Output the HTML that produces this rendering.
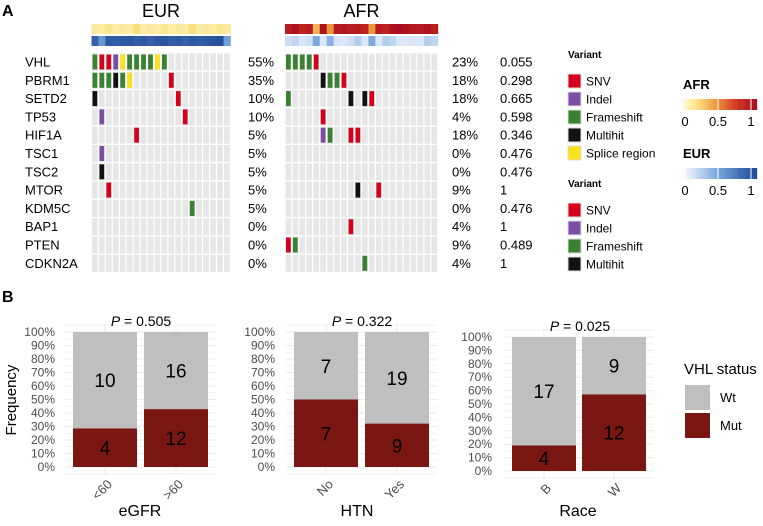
<!DOCTYPE html>
<html><head><meta charset="utf-8"><style>
body{margin:0;background:#fff}
svg{display:block;font-family:"Liberation Sans",sans-serif}
</style></head><body>
<svg id="s" width="763" height="526" viewBox="0 0 763 526"></svg>
<script>
const genes=["VHL","PBRM1","SETD2","TP53","HIF1A","TSC1","TSC2","MTOR","KDM5C","BAP1","PTEN","CDKN2A"];
const eurPct=["55%","35%","10%","10%","5%","5%","5%","5%","5%","0%","0%","0%"];
const afrPct=["23%","18%","18%","4%","18%","0%","0%","9%","0%","4%","9%","4%"];
const pvals=["0.055","0.298","0.665","0.598","0.346","0.476","0.476","1","0.476","1","0.489","1"];
// mutations: [gene index, column, type]  S=SNV I=Indel F=Frameshift M=Multihit Y=Splice
const eurMut=[[0,0,"F"],[0,1,"S"],[0,2,"S"],[0,3,"I"],[0,4,"Y"],[0,5,"F"],[0,6,"F"],[0,7,"F"],[0,8,"F"],[0,9,"Y"],[0,10,"F"],
[1,0,"F"],[1,1,"F"],[1,2,"F"],[1,3,"M"],[1,4,"F"],[1,5,"Y"],[1,11,"S"],[2,0,"M"],[2,12,"S"],[3,1,"I"],[3,13,"S"],[4,6,"S"],[5,1,"I"],[6,1,"M"],[7,2,"S"],[8,14,"F"]];
const afrMut=[[0,0,"F"],[0,1,"F"],[0,2,"F"],[0,3,"F"],[0,4,"S"],[1,5,"M"],[1,6,"F"],[1,7,"F"],[1,8,"S"],[2,0,"F"],[2,9,"M"],[2,11,"M"],[2,12,"S"],
[3,5,"S"],[4,5,"I"],[4,6,"F"],[4,9,"S"],[4,10,"S"],[7,10,"M"],[7,13,"S"],[9,9,"S"],[10,0,"S"],[10,1,"F"],[11,11,"F"]];
const eurAfrAnc=[0.12,0.1,0.15,0.1,0.12,0.1,0.2,0.1,0.12,0.1,0.15,0.1,0.12,0.1,0.2,0.1,0.12,0.1,0.15,0.12];
const eurEurAnc=[0.85,0.55,0.9,0.88,0.9,0.92,0.88,0.9,0.85,0.9,0.92,0.88,0.9,0.85,0.9,0.88,0.9,0.92,0.95,0.5];
const afrAfrAnc=[0.9,0.95,0.85,0.9,0.35,0.95,0.45,0.9,0.92,0.88,0.9,0.85,0.45,0.9,0.85,0.95,0.97,0.95,0.92,0.9,0.95,0.88];
const afrEurAnc=[0.15,0.2,0.1,0.15,0.45,0.1,0.4,0.12,0.1,0.15,0.25,0.1,0.45,0.1,0.25,0.2,0.1,0.1,0.12,0.1,0.25,0.2];
const mutColors={S:"#d7001c",I:"#7b4ea3",F:"#3b8132",M:"#111111",Y:"#f9e21a"};
// panel B
const groups=["eGFR","HTN","Race"];
const cats=[["<60",">60"],["No","Yes"],["B","W"]];
const mutN=[[4,12],[7,9],[4,12]];
const wtN=[[10,16],[7,19],[17,9]];
const pText=["0.505","0.322","0.025"];
const yTicks=[0,10,20,30,40,50,60,70,80,90,100];

const NS="http://www.w3.org/2000/svg",S=document.getElementById("s");
function el(t,a,txt,p){const e=document.createElementNS(NS,t);for(const k in a)e.setAttribute(k,a[k]);if(txt!=null)e.textContent=txt;(p||S).appendChild(e);return e;}
function lerp(a,b,t){return a.map((v,i)=>Math.round(v+(b[i]-v)*t));}
function scaleN(stops,t){for(let i=1;i<stops.length;i++){if(t<=stops[i][0]||i===stops.length-1){const a=stops[i-1],b=stops[i];const u=Math.max(0,Math.min(1,(t-a[0])/(b[0]-a[0])));return `rgb(${lerp(a[1],b[1],u)})`;}}}
const afrCol=t=>scaleN([[0,[255,250,205]],[0.2,[248,222,125]],[0.45,[236,150,60]],[0.7,[212,60,35]],[1,[165,10,30]]],t);
const eurCol=t=>scaleN([[0,[246,249,255]],[0.5,[111,160,216]],[1,[30,70,150]]],t);

let e;
e=el("text",{x:2,y:16,"font-size":16,"font-weight":"bold"},"A");
e=el("text",{x:2,y:302,"font-size":16,"font-weight":"bold"},"B");

const rowY=i=>53+i*18.3, colW=6.95;
genes.forEach((g,i)=>{
  e=el("text",{x:25,y:rowY(i)+13.5,"font-size":13},g);
  e=el("text",{x:248,y:rowY(i)+13.5,"font-size":13},eurPct[i]);
  e=el("text",{x:452,y:rowY(i)+13.5,"font-size":13},afrPct[i]);
  e=el("text",{x:500,y:rowY(i)+13.5,"font-size":13},pvals[i]);
});
function onco(x0,n,muts,top,bot,label,name){
  const g=el("g",{});
  e=el("text",{x:x0+n*colW/2,y:17,"font-size":18,"text-anchor":"middle"},label,g);
  for(let c=0;c<n;c++){
    e=el("rect",{x:x0+c*colW,y:24,width:colW+0.3,height:10,fill:afrCol(top[c])},null,g);
    e=el("rect",{x:x0+c*colW,y:36,width:colW+0.3,height:10,fill:eurCol(bot[c])},null,g);
    for(let r=0;r<genes.length;r++){e=el("rect",{x:x0+c*colW+0.5,y:rowY(r)+0.5,width:colW-1.2,height:17,fill:"#e6e6e6"},null,g);}
  }
  muts.forEach(m=>{e=el("rect",{x:x0+m[1]*colW+1,y:rowY(m[0])+1.5,width:colW-2.2,height:15,fill:mutColors[m[2]]},null,g);});
}
onco(91.5,20,eurMut,eurAfrAnc,eurEurAnc,"EUR","eur-oncoprint");
onco(285,22,afrMut,afrAfrAnc,afrEurAnc,"AFR","afr-oncoprint");

function vlegend(y0,items,name){
  e=el("text",{x:568,y:y0,"font-size":10,"font-weight":"bold"},"Variant");
  items.forEach((it,i)=>{const cy=y0+23+i*18;
    e=el("rect",{x:568,y:cy-7,width:13,height:14,fill:mutColors[it[0]],stroke:"#ddd"});
    e=el("text",{x:586,y:cy+4.5,"font-size":12},it[1]);});
}
vlegend(58,[["S","SNV"],["I","Indel"],["F","Frameshift"],["M","Multihit"],["Y","Splice region"]],"variant-legend-1");
vlegend(187,[["S","SNV"],["I","Indel"],["F","Frameshift"],["M","Multihit"]],"variant-legend-2");

function cbar(y0,title,fn,name){
  e=el("text",{x:683,y:y0,"font-size":13,"font-weight":"bold"},title);
  for(let i=0;i<40;i++){e=el("rect",{x:683+i*1.85,y:y0+10,width:2,height:11,fill:fn(i/39)});}
  [0,0.5,1].forEach(v=>{const x=685+v*66;el("line",{x1:x,x2:x,y1:y0+10,y2:y0+21,stroke:"#fff","stroke-width":1});
    e=el("text",{x:x,y:y0+37,"font-size":13,"text-anchor":"middle"},String(v));});
}
cbar(89,"AFR",afrCol,"afr-colorbar");cbar(158,"EUR",eurCol,"eur-colorbar");

// panel B
const panels=[{x:[73,144],top:332,bot:467,ax:55},{x:[294,365],top:332,bot:467,ax:275},{x:[512,582],top:337,bot:471,ax:492}];
const titleX=[140,357,578];
e=el("text",{x:0,y:0,"font-size":15,"text-anchor":"middle",transform:"translate(16,400) rotate(-90)"},"Frequency");
panels.forEach((p,k)=>{
  const g=el("g",{});
  const yS=v=>p.bot-(p.bot-p.top)*v/100;
  const left=p.x[0]-8,right=p.x[1]+72;
  for(let v=0;v<=100;v+=5){e=el("line",{x1:left,x2:right,y1:yS(v),y2:yS(v),stroke:v%10?"#f4f4f4":"#ebebeb","stroke-width":1},null,g);}
  e=el("line",{x1:left,x2:right,y1:yS(-5),y2:yS(-5),stroke:"#f0f0f0"},null,g);
  e=el("line",{x1:left,x2:right,y1:yS(105),y2:yS(105),stroke:"#f0f0f0"},null,g);
  p.x.forEach(x=>{el("line",{x1:x+32,x2:x+32,y1:yS(-6),y2:yS(106),stroke:"#ebebeb"},null,g);});
  yTicks.forEach(v=>{e=el("text",{x:p.ax,y:yS(v)+4,"font-size":12,fill:"#4d4d4d","text-anchor":"end"},v+"%",g);});
  e=el("text",{x:p.x[0]+68,y:p.top-6,"font-size":14,"text-anchor":"middle"},null,g);
  e.innerHTML='<tspan font-style="italic">P</tspan> = '+pText[k];
  p.x.forEach((x,j)=>{
    const tot=mutN[k][j]+wtN[k][j],mp=100*mutN[k][j]/tot;
    e=el("rect",{x:x,y:yS(100),width:64,height:yS(mp)-yS(100),fill:"#bfbfbf"},null,g);
    e=el("rect",{x:x,y:yS(mp),width:64,height:yS(0)-yS(mp),fill:"#7b1712"},null,g);
    e=el("text",{x:x+32,y:(yS(100)+yS(mp))/2+7,"font-size":19,"text-anchor":"middle"},String(wtN[k][j]),g);
    e=el("text",{x:x+32,y:(yS(mp)+yS(0))/2+7,"font-size":19,"text-anchor":"middle"},String(mutN[k][j]),g);
    e=el("text",{x:0,y:0,"font-size":13,fill:"#4d4d4d","text-anchor":"end",transform:`translate(${x+40},${p.bot+18}) rotate(-45)`},cats[k][j],g);
  });
  e=el("text",{x:titleX[k],y:516,"font-size":16,"text-anchor":"middle"},groups[k],g);
});
e=el("text",{x:684,y:374,"font-size":15},"VHL status");
[["#bfbfbf","Wt",385],["#7b1712","Mut",413]].forEach(it=>{
  e=el("rect",{x:685,y:it[2],width:25,height:25,fill:it[0]});
  e=el("text",{x:720,y:it[2]+17,"font-size":13},it[1]);
});
</script>
</body></html>
